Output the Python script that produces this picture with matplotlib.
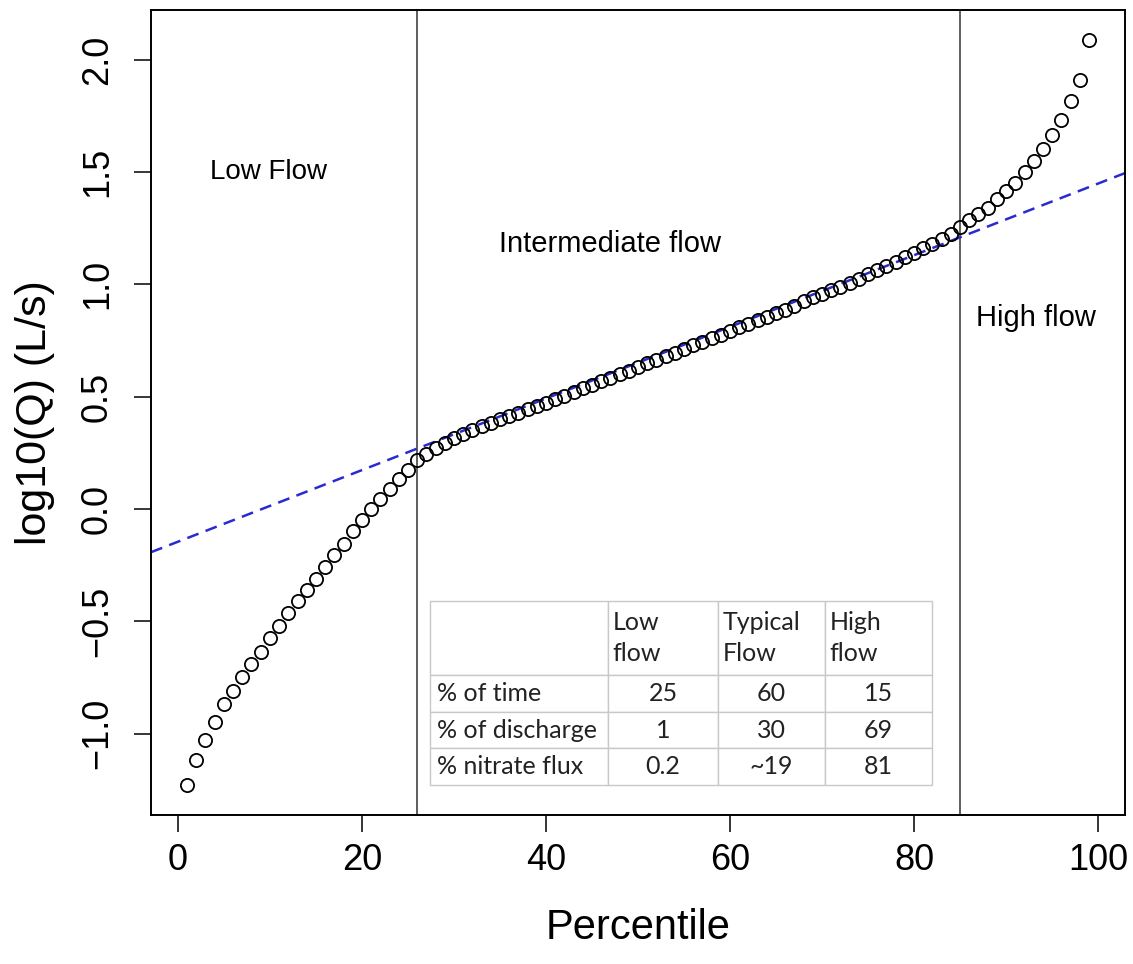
import matplotlib.pyplot as plt

# -----------------------------
# Data
# -----------------------------
percentile = list(range(1, 100))
log_q = [
    -1.23, -1.12, -1.03, -0.95, -0.87, -0.81, -0.75, -0.69, -0.635, -0.575,
    -0.52, -0.465, -0.41, -0.36, -0.31, -0.26, -0.205, -0.155, -0.10, -0.05,
    0.00, 0.045, 0.09, 0.135, 0.175, 0.22, 0.245, 0.27, 0.295, 0.315,
    0.335, 0.352, 0.368, 0.384, 0.399, 0.414, 0.428, 0.443, 0.458, 0.474,
    0.49, 0.505, 0.52, 0.537, 0.553, 0.569, 0.585, 0.60, 0.616, 0.632,
    0.648, 0.664, 0.68, 0.696, 0.712, 0.728, 0.744, 0.76, 0.776, 0.792,
    0.808, 0.824, 0.84, 0.856, 0.872, 0.888, 0.905, 0.924, 0.942, 0.958,
    0.974, 0.99, 1.007, 1.025, 1.044, 1.063, 1.081, 1.10, 1.12, 1.14,
    1.16, 1.182, 1.204, 1.226, 1.256, 1.286, 1.312, 1.342, 1.378, 1.416,
    1.452, 1.50, 1.549, 1.604, 1.664, 1.73, 1.816, 1.911, 2.089,
]

fit_intercept = -0.146
fit_slope = 0.01595

breaks = [26, 85]

row_labels = ["% of time", "% of discharge", "% nitrate flux"]
col_labels = ["Low\nflow", "Typical\nFlow", "High\nflow"]
pct_time = ["25", "60", "15"]
pct_discharge = ["1", "30", "69"]
pct_nitrate = ["0.2", "~19", "81"]

# -----------------------------
# Figure
# -----------------------------
plt.rcParams["font.family"] = ["Liberation Sans", "DejaVu Sans"]

fig = plt.figure(figsize=(11.33, 9.64), dpi=100)
ax = fig.add_axes([151 / 1133, 1 - 815 / 964, 974 / 1133, 805 / 964])

ax.plot(percentile, log_q, "o", mfc="none", mec="black", ms=9.5, mew=1.3,
        linestyle="none", zorder=3)

# R style limits: data range stretched by 4% each side
xspan = max(percentile) - min(percentile)
yspan = max(log_q) - min(log_q)
ax.set_xlim(min(percentile) - 0.04 * xspan, max(percentile) + 0.04 * xspan)
ax.set_ylim(min(log_q) - 0.04 * yspan, max(log_q) + 0.04 * yspan)
ax.set_autoscale_on(False)

ax.axline((0, fit_intercept), slope=fit_slope, color="#2a2ad2", lw=1.8,
          dashes=(4.8, 3), zorder=2)

for b in breaks:
    ax.axvline(b, color="#333333", lw=1.1, zorder=1)

ax.text(9.8, 1.5, "Low Flow", fontsize=20, ha="center", va="center")
ax.text(47, 1.18, "Intermediate flow", fontsize=21, ha="center", va="center")
ax.text(93.2, 0.85, "High flow", fontsize=21, ha="center", va="center")

ax.set_xticks([0, 20, 40, 60, 80, 100])
ax.set_yticks([-1.0, -0.5, 0.0, 0.5, 1.0, 1.5, 2.0])
ax.set_yticklabels([f"{v:.1f}".replace("-", "\u2212") for v in ax.get_yticks()],
                   rotation=90, va="center")
ax.tick_params(length=12, width=1.1, labelsize=26, pad=8)
ax.tick_params(axis="y", pad=14)
for s in ax.spines.values():
    s.set_linewidth(1.4)

ax.set_xlabel("Percentile", fontsize=30, labelpad=22)
ax.set_ylabel("log10(Q) (L/s)", fontsize=31, labelpad=18)

# -----------------------------
# Inset table
# -----------------------------
cell_text = [[""] + col_labels]
for lab, vals in zip(row_labels, [pct_time, pct_discharge, pct_nitrate]):
    cell_text.append([lab] + vals)

tab = ax.table(cellText=cell_text, colWidths=[178, 110, 107, 107],
               cellLoc="center",
               bbox=[(430 - 151) / 974, (815 - 785) / 805,
                     (932 - 430) / 974, (785 - 601) / 805])
tab.auto_set_font_size(False)
for (r, c), cell in tab.get_celld().items():
    cell.set_edgecolor("#c8c8c8")
    cell.set_linewidth(1.0)
    cell.set_height(74 if r == 0 else 36.5)
    txt = cell.get_text()
    txt.set_fontfamily("Lato")
    txt.set_fontsize(18)
    txt.set_color("#222222")
    txt.set_linespacing(1.45)
    if r == 0 or c == 0:
        cell._loc = "left"
        cell.PAD = 0.04
        txt.set_ha("left")

fig.savefig("out.png", dpi=100)
